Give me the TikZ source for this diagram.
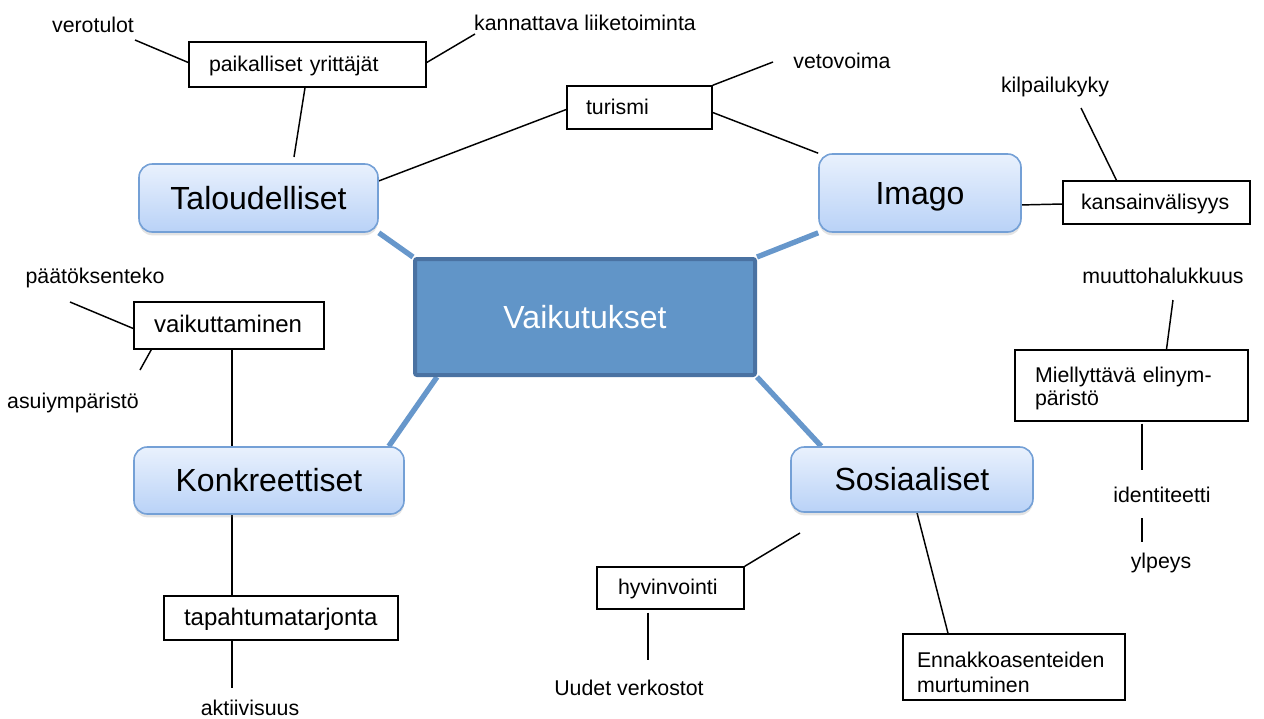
\documentclass[tikz,border=0pt]{standalone}
\usepackage{fontspec}
\setmainfont{Liberation Sans}
\usetikzlibrary{backgrounds,calc,shadows}
\definecolor{cfill}{HTML}{6195C8}
\definecolor{cdraw}{HTML}{4A72A2}
\definecolor{gtop}{HTML}{E9F1FD}
\definecolor{gbot}{HTML}{B9D2F7}
\definecolor{gdraw}{HTML}{74A0D6}
\definecolor{conn}{HTML}{6797CB}
\begin{document}
\begin{tikzpicture}[x=0.75pt,y=-0.75pt,
  every node/.style={font=\fontsize{16}{17.25}\selectfont},
  sbox/.style={draw=black, line width=1.1pt, fill=white, inner ysep=0pt, align=left},
  one/.style={text height=12.5pt, text depth=2.5pt},
  big/.style={draw=gdraw, line width=1.2pt, rounded corners=10pt, top color=gtop, bottom color=gbot,
    font=\fontsize{24}{28}\selectfont, text height=19pt, text depth=2pt, inner sep=0pt,
    drop shadow={opacity=0.22,shadow xshift=0pt,shadow yshift=-2.5pt}},
  lbl/.style={anchor=base, inner sep=0pt},
  thinline/.style={line width=1.1pt, black},
  conline/.style={line width=4pt, conn}]
\useasboundingbox (0,0) rectangle (1264,718);

% central
\node[draw=cdraw, line width=3pt, fill=cfill, rounded corners=1.5pt, minimum width=255pt, minimum height=87pt,
  text=white, font=\fontsize{24}{28}\selectfont, text height=19pt, text depth=2pt] (cen) at (585,317) {Vaikutukset};

% main categories
\node[big, minimum width=179.25pt, minimum height=51pt] (tal) at (258.5,198) {Taloudelliset};
\node[big, minimum width=151.5pt, minimum height=58.5pt] (ima) at (920,193) {Imago};
\node[big, minimum width=202.5pt, minimum height=50.25pt] (konk) at (269,480.5) {Konkreettiset};
\node[big, minimum width=181.5pt, minimum height=48.75pt] (sos) at (912,479.5) {Sosiaaliset};

% small boxes
\node[sbox, one, inner xsep=15pt, text width=147.75pt, minimum height=33.75pt] (paik) at (307.5,64.5) {paikalliset yrittäjät};
\node[sbox, one, inner xsep=14.25pt, text width=80.25pt, minimum height=32.25pt] (tur) at (639.5,107.5) {turismi};
\node[sbox, one, inner xsep=13.5pt, text width=113.25pt, minimum height=32.25pt] (kans) at (1156.5,202.5) {kansainvälisyys};
\node[sbox, one, inner xsep=15pt, text width=112.5pt, minimum height=35.25pt, font=\fontsize{18}{20}\selectfont, text height=13.5pt, text depth=3pt] (vaik) at (229,325.5) {vaikuttaminen};
\node[sbox, inner xsep=15pt, text width=144.75pt, minimum height=53.25pt] (miel) at (1131.5,385.5) {\rule{0pt}{16pt}Miellyttävä elinym-\\päristö};
\node[sbox, one, inner xsep=15pt, text width=145.5pt, minimum height=33pt, font=\fontsize{18}{20}\selectfont, text height=13.5pt, text depth=3pt] (tap) at (281,618) {tapahtumatarjonta};
\node[sbox, one, inner xsep=15.75pt, text width=78.75pt, minimum height=31.5pt] (hyv) at (670.5,588) {hyvinvointi};
\node[sbox, inner xsep=10.5pt, text width=145.5pt, minimum height=49.5pt, font=\fontsize{16}{19}\selectfont] (enn) at (1014,667) {\rule{0pt}{20pt}Ennakkoasenteiden\\murtuminen};

% free labels
\node[lbl] (vero) at (93,32) {verotulot};
\node[lbl] (kann) at (585,30) {kannattava liiketoiminta};
\node[lbl] (veto) at (842,68) {vetovoima};
\node[lbl] (kilp) at (1055,92) {kilpailukyky};
\node[lbl] (paat) at (95,283) {päätöksenteko};
\node[lbl] (asui) at (73,408) {asuiympäristö};
\node[lbl] (muut) at (1163,283) {muuttohalukkuus};
\node[lbl] (iden) at (1162,502) {identiteetti};
\node[lbl] (ylp) at (1161,568) {ylpeys};
\node[lbl] (akt) at (250,715) {aktiivisuus};
\node[lbl] (uud) at (629,695) {Uudet verkostot};

% free connector ends
\coordinate (c-vero) at (135,40);
\coordinate (c-kann) at (475,34);
\coordinate (c-talt) at (294,157);
\coordinate (c-talr) at (376,182);
\coordinate (c-veto) at (773,62);
\coordinate (c-kilp) at (1081,108);
\coordinate (c-paat) at (70,302);
\coordinate (c-asui) at (140,370);
\coordinate (c-akt) at (232,688);
\coordinate (c-sos) at (800,533);
\coordinate (c-uud) at (648,660);
\coordinate (c-muut) at (1173,300);
\coordinate (c-id1) at (1142,470);
\coordinate (c-id2) at (1142,518);
\coordinate (c-yl) at (1142,542);

\begin{scope}[on background layer]
\draw[conline] (tal.south east) -- (cen.north west);
\draw[conline] (ima.south west) -- (cen.north east);
\draw[conline] ($(konk.north east)+(-16,0)$) -- ($(cen.south west)+(24,0)$);
\draw[conline] ($(sos.north west)+(31,0)$) -- (cen.south east);

\draw[thinline] (c-vero) -- ($(paik.west)+(0,-2)$);
\draw[thinline] (c-kann) -- ($(paik.east)+(0,-2)$);
\draw[thinline] ($(paik.south)+(-2.5,0)$) -- (c-talt);
\draw[thinline] ($(tur.west)+(0,2)$) -- (c-talr);
\draw[thinline] (tur.north east) -- (c-veto);
\draw[thinline] ($(tur.east)+(0,5)$) -- (ima.north west);
\draw[thinline] (c-kilp) -- ($(kans.north)+(-40,0)$);
\draw[thinline] ($(ima.east)+(-3,12)$) -- ($(kans.west)+(0,1.5)$);
\draw[thinline] (c-paat) -- ($(vaik.west)+(0,3)$);
\draw[thinline] (c-asui) -- ($(vaik.south west)+(18,0)$);
\draw[thinline] ($(vaik.south)+(3,0)$) -- ($(konk.north)+(-37,0)$);
\draw[thinline] ($(konk.south)+(-37,0)$) -- ($(tap.north)+(-49,0)$);
\draw[thinline] ($(tap.south)+(-49,0)$) -- (c-akt);
\draw[thinline] (hyv.north east) -- (c-sos);
\draw[thinline] ($(hyv.south)+(-22.5,3)$) -- (c-uud);
\draw[thinline] ($(sos.south)+(5,0)$) -- ($(enn.north)+(-66,0)$);
\draw[thinline] (c-muut) -- ($(miel.north)+(35,0)$);
\draw[thinline] ($(miel.south)+(10.5,2)$) -- (c-id1);
\draw[thinline] (c-id2) -- (c-yl);
\end{scope}
\end{tikzpicture}
\end{document}
